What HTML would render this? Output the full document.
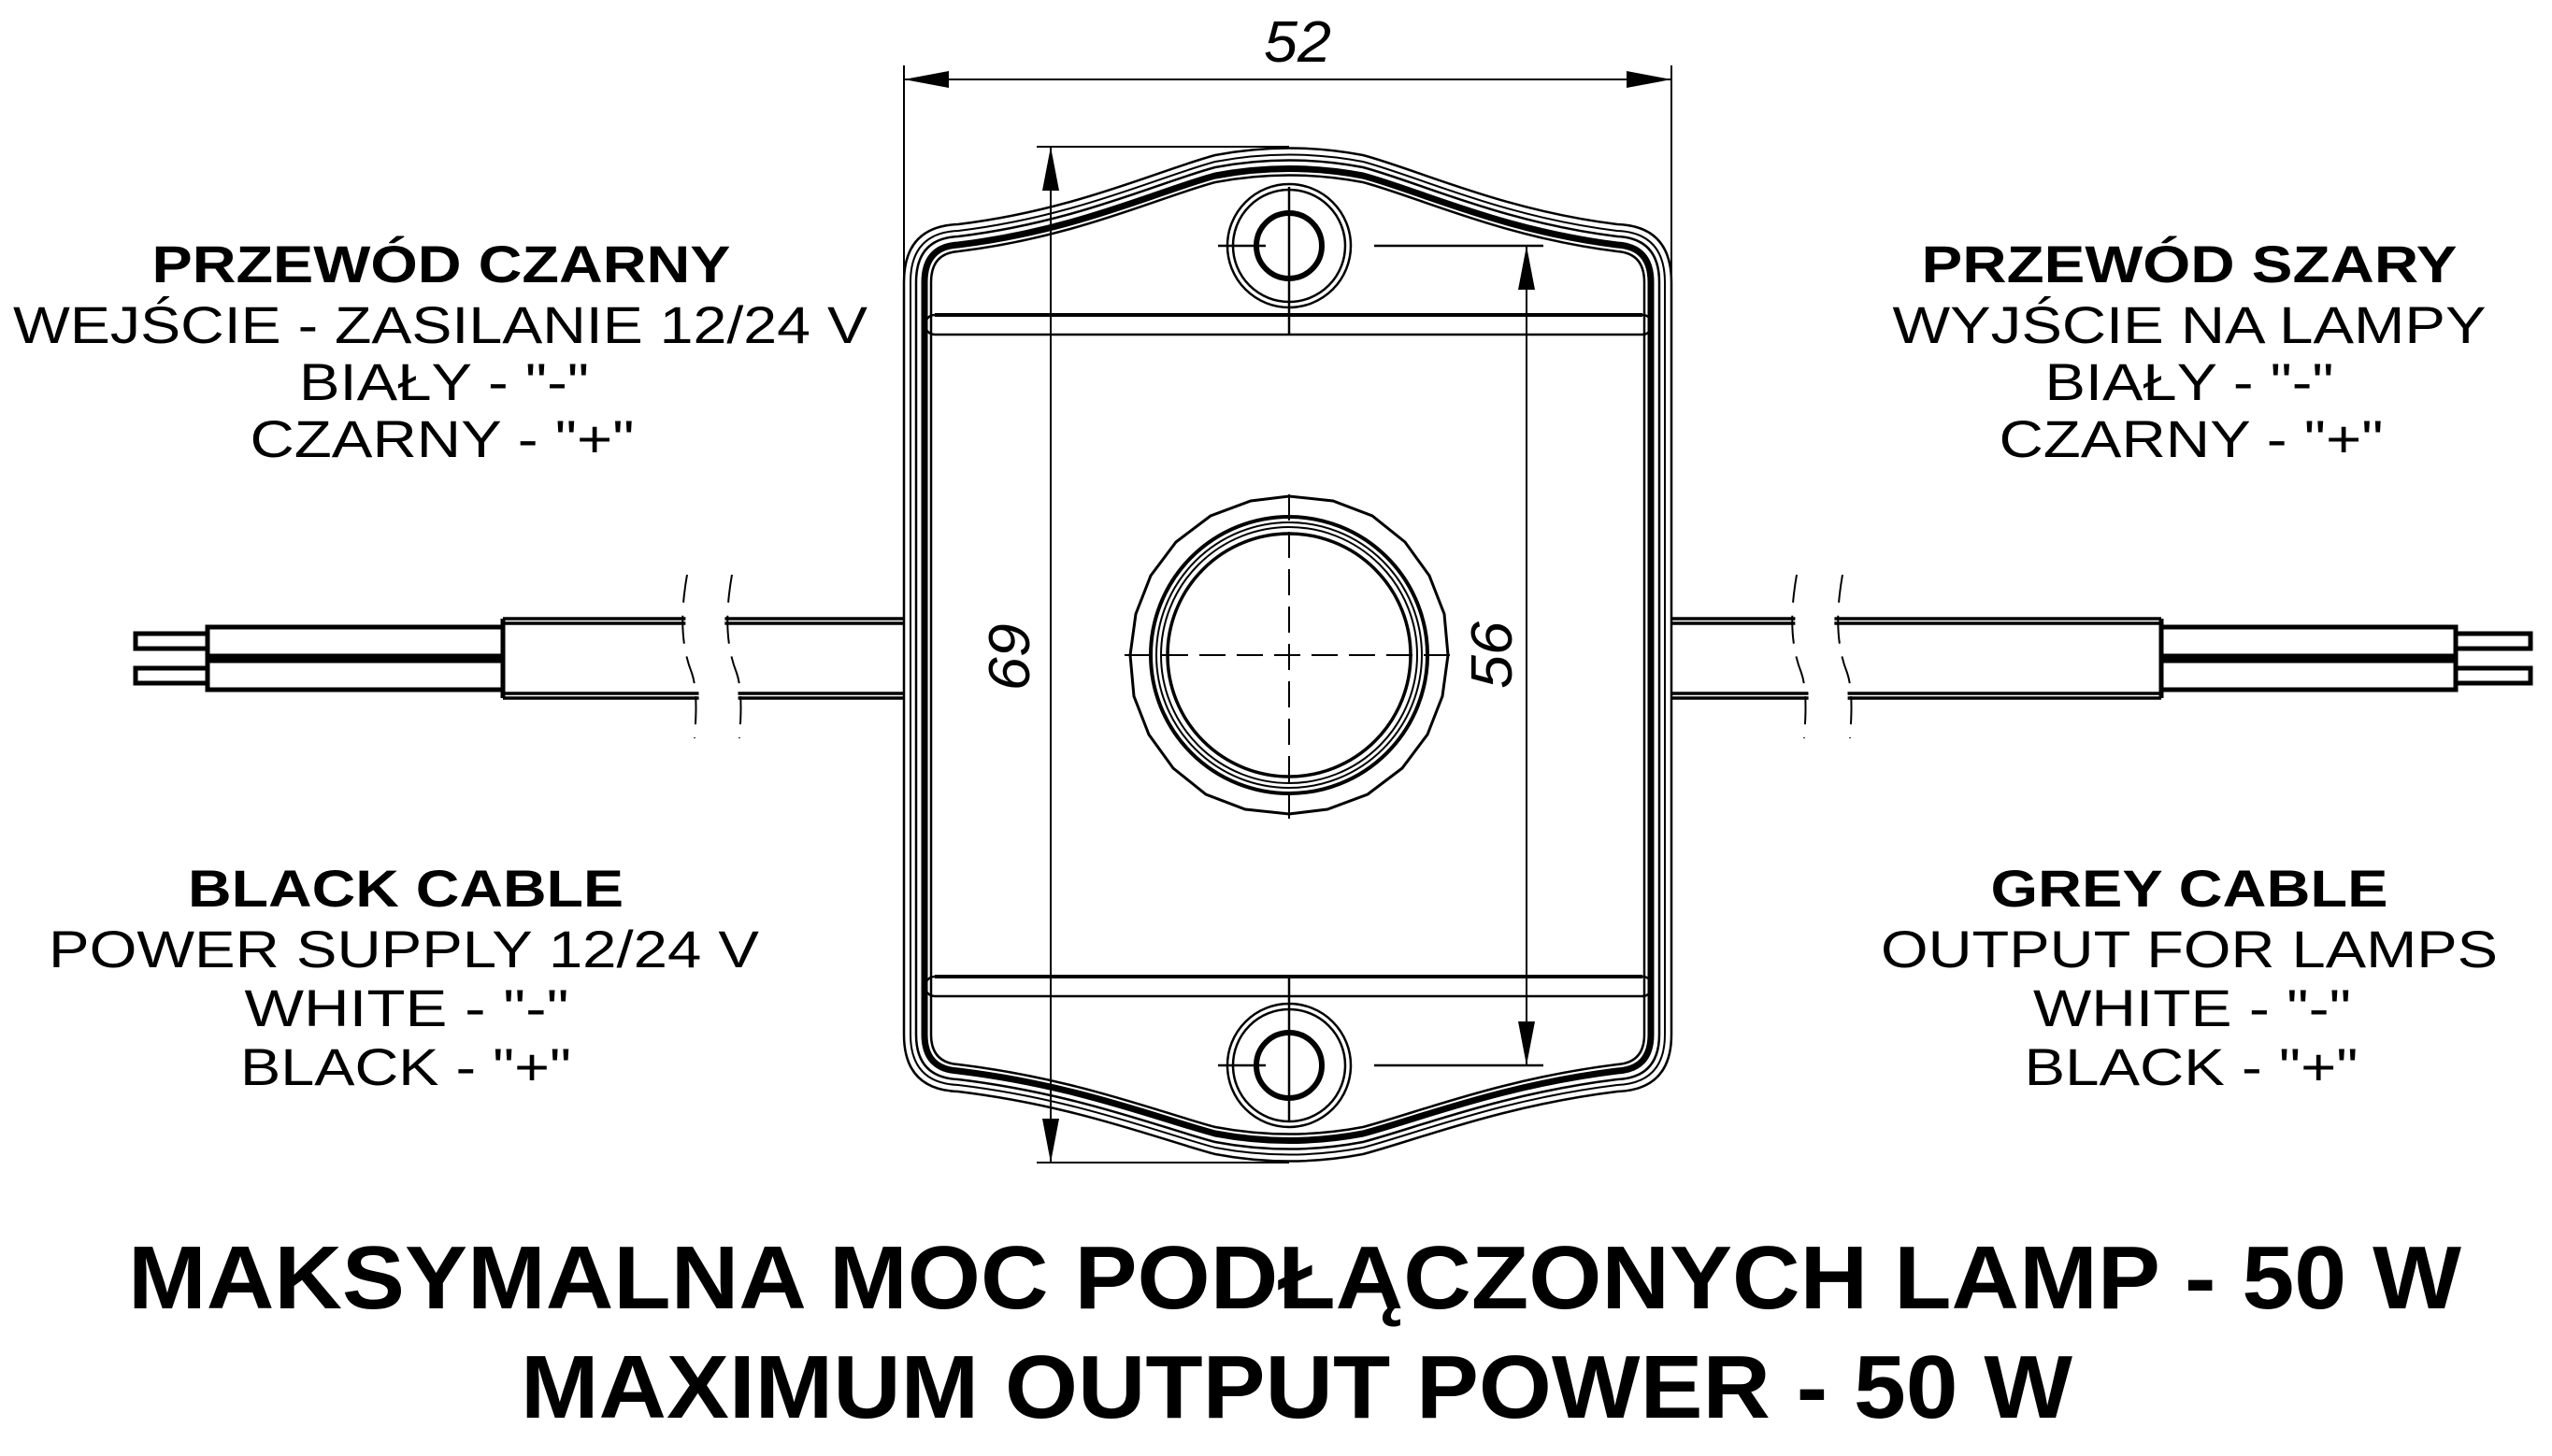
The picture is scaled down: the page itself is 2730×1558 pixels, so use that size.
<!DOCTYPE html>
<html><head><meta charset="utf-8"><style>html,body{margin:0;padding:0;background:#fff}svg{display:block}</style></head>
<body>
<svg id="s" xmlns="http://www.w3.org/2000/svg" width="2730" height="1558" viewBox="0 0 2730 1558">
<g fill="none" stroke="#000">
<g id="body"></g>
<g stroke-width="2.5">
<line x1="1000" y1="337" x2="1757" y2="337" stroke-width="4"/><line x1="1000" y1="358" x2="1757" y2="358"/>
<line x1="1000" y1="1045" x2="1757" y2="1045" stroke-width="4"/><line x1="1000" y1="1066" x2="1757" y2="1066"/>
<path d="M1000,337 a10,10 0 0 0 0,21 M1757,337 a10,10 0 0 1 0,21 M1000,1045 a10,10 0 0 0 0,21 M1757,1045 a10,10 0 0 1 0,21"/>
</g>
<g stroke-width="2.5">
<circle cx="1379" cy="263" r="66"/><circle cx="1379" cy="263" r="60"/><circle cx="1379" cy="263" r="35" stroke-width="6"/>
<circle cx="1379" cy="1140" r="66"/><circle cx="1379" cy="1140" r="60"/><circle cx="1379" cy="1140" r="35" stroke-width="6"/>
<line x1="1303" y1="263" x2="1354" y2="263"/><line x1="1470" y1="263" x2="1651" y2="263"/>
<line x1="1303" y1="1140" x2="1354" y2="1140"/><line x1="1470" y1="1140" x2="1651" y2="1140"/>
<line x1="1379" y1="200" x2="1379" y2="358"/><line x1="1379" y1="1045" x2="1379" y2="1200"/>
</g>
<g stroke-width="3">
<polygon points="1549,701 1543,745 1527,786 1500,822 1463,850 1420,866 1379,871 1332,866 1290,850 1255,822 1229,786 1213,745 1209,701 1215,657 1231,616 1258,580 1295,552 1338,536 1379,531 1426,536 1468,552 1503,580 1529,616 1545,657"/>
<circle cx="1379" cy="701" r="148" stroke-width="4"/><circle cx="1379" cy="701" r="142" stroke-width="2"/><circle cx="1379" cy="701" r="137" stroke-width="2"/><circle cx="1379" cy="701" r="130" stroke-width="3.5"/>
</g>
<g stroke-width="2" stroke-dasharray="28,12">
<line x1="1203" y1="701" x2="1555" y2="701"/><line x1="1379" y1="529" x2="1379" y2="876"/>
</g>
<g stroke-width="2">
<line x1="967" y1="70" x2="967" y2="300"/><line x1="1788" y1="70" x2="1788" y2="300"/>
<line x1="967" y1="85" x2="1788" y2="85"/>
<line x1="1109" y1="157" x2="1379" y2="157"/><line x1="1109" y1="1244" x2="1379" y2="1244"/>
<line x1="1124" y1="157" x2="1124" y2="1244"/>
<line x1="1633" y1="263" x2="1633" y2="1140"/>
</g>
<g fill="#000" stroke="none">
<polygon points="967,85 1015,76 1015,94"/><polygon points="1788,85 1740,76 1740,94"/>
<polygon points="1124,157 1115,204 1133,204"/><polygon points="1124,1244 1115,1197 1133,1197"/>
<polygon points="1633,263 1624,310 1642,310"/><polygon points="1633,1140 1624,1093 1642,1093"/>
</g>
<g stroke-width="5">
<path d="M538,662 H968 M538,667 H968 M538,742 H968 M538,747 H968" stroke-width="3.5"/>
<path d="M538,662 V747"/>
<rect x="222" y="671" width="316" height="31"/><rect x="222" y="707" width="316" height="31"/>
<rect x="145" y="678" width="77" height="16"/><rect x="145" y="715" width="77" height="16"/>
<path d="M1788,662 H2312 M1788,667 H2312 M1788,742 H2312 M1788,747 H2312" stroke-width="3.5"/>
<path d="M2312,662 V747"/>
<rect x="2312" y="671" width="315" height="31"/><rect x="2312" y="707" width="315" height="31"/>
<rect x="2627" y="678" width="80" height="16"/><rect x="2627" y="715" width="80" height="16"/>
</g>
<g stroke="#fff" fill="none">
<path d="M759,620 C752,660 752,690 765,720 C772,740 767,770 765,790" stroke-width="42"/>
<path d="M1946,620 C1939,660 1939,690 1952,720 C1959,740 1954,770 1952,790" stroke-width="42"/>
</g>
<g stroke-width="2" stroke-dasharray="30,14">
<path d="M735,615 C728,655 728,690 740,720 C747,740 744,775 743,790"/>
<path d="M783,615 C776,655 776,690 788,720 C795,740 792,775 791,790"/>
<path d="M1922,615 C1915,655 1915,690 1927,720 C1934,740 1931,775 1930,790"/>
<path d="M1971,615 C1964,655 1964,690 1976,720 C1983,740 1980,775 1979,790"/>
</g>
</g>
<g font-family="Liberation Sans, sans-serif" fill="#000" text-anchor="middle">
<g font-size="56">
<text x="472" y="302" font-weight="bold" textLength="619" lengthAdjust="spacingAndGlyphs">PRZEWÓD CZARNY</text>
<text x="471" y="367" textLength="914" lengthAdjust="spacingAndGlyphs">WEJŚCIE - ZASILANIE 12/24 V</text>
<text x="475" y="428" textLength="310" lengthAdjust="spacingAndGlyphs">BIAŁY - "-"</text>
<text x="473" y="489" textLength="411" lengthAdjust="spacingAndGlyphs">CZARNY - "+"</text>
<text x="2342" y="302" font-weight="bold" textLength="573" lengthAdjust="spacingAndGlyphs">PRZEWÓD SZARY</text>
<text x="2342" y="367" textLength="635" lengthAdjust="spacingAndGlyphs">WYJŚCIE NA LAMPY</text>
<text x="2342" y="428" textLength="309" lengthAdjust="spacingAndGlyphs">BIAŁY - "-"</text>
<text x="2344" y="489" textLength="411" lengthAdjust="spacingAndGlyphs">CZARNY - "+"</text>
<text x="434" y="970" font-weight="bold" textLength="466" lengthAdjust="spacingAndGlyphs">BLACK CABLE</text>
<text x="432" y="1035" textLength="760" lengthAdjust="spacingAndGlyphs">POWER SUPPLY 12/24 V</text>
<text x="435" y="1098" textLength="347" lengthAdjust="spacingAndGlyphs">WHITE - "-"</text>
<text x="434" y="1161" textLength="354" lengthAdjust="spacingAndGlyphs">BLACK - "+"</text>
<text x="2342" y="970" font-weight="bold" textLength="425" lengthAdjust="spacingAndGlyphs">GREY CABLE</text>
<text x="2342" y="1035" textLength="660" lengthAdjust="spacingAndGlyphs">OUTPUT FOR LAMPS</text>
<text x="2345" y="1098" textLength="340" lengthAdjust="spacingAndGlyphs">WHITE - "-"</text>
<text x="2344" y="1161" textLength="357" lengthAdjust="spacingAndGlyphs">BLACK - "+"</text>
</g>
<g font-size="96" font-weight="bold">
<text x="1385" y="1400" textLength="2496" lengthAdjust="spacingAndGlyphs">MAKSYMALNA MOC PODŁĄCZONYCH LAMP - 50 W</text>
<text x="1387" y="1517" textLength="1660" lengthAdjust="spacingAndGlyphs">MAXIMUM OUTPUT POWER - 50 W</text>
</g>
<g font-size="62" font-style="italic">
<text x="1388" y="66" textLength="72" lengthAdjust="spacingAndGlyphs">52</text>
<text transform="translate(1080,701) rotate(90)" y="22" textLength="72" lengthAdjust="spacingAndGlyphs">69</text>
<text transform="translate(1595,701) rotate(-90)" y="22" textLength="72" lengthAdjust="spacingAndGlyphs">56</text>
</g>
</g>
</svg>
<script>
function P(d){var L=967+d,R=1788-d,T=302,B=1107,cT=240+d,pk=157+d,cB=1168-d,pb=1244-d,r=58-d;if(r<8)r=8;
return "M"+L+","+T+" Q"+L+","+(cT+2)+" "+(L+r)+","+cT+" C1150,"+(cT-15)+" 1240,"+(pk+25)+" 1300,"+(pk+9)+" Q1379,"+(pk-6)+" 1458,"+(pk+9)+" C1518,"+(pk+25)+" 1608,"+(cT-15)+" "+(R-r)+","+cT+" Q"+R+","+(cT+2)+" "+R+","+T+
" L"+R+","+B+" Q"+R+","+(cB-2)+" "+(R-r)+","+cB+" C1608,"+(cB+15)+" 1518,"+(pb-25)+" 1458,"+(pb-9)+" Q1379,"+(pb+6)+" 1300,"+(pb-9)+" C1240,"+(pb-25)+" 1150,"+(cB+15)+" "+(L+r)+","+cB+" Q"+L+","+(cB-2)+" "+L+","+B+" Z";}
var g=document.getElementById("body"),h="";
[[0,2.5],[7,2],[13,2.5],[22,7],[29,2.5]].forEach(function(a){h+='<path d="'+P(a[0])+'" stroke-width="'+a[1]+'"/>';});
g.innerHTML=h;
</script>
</body></html>
